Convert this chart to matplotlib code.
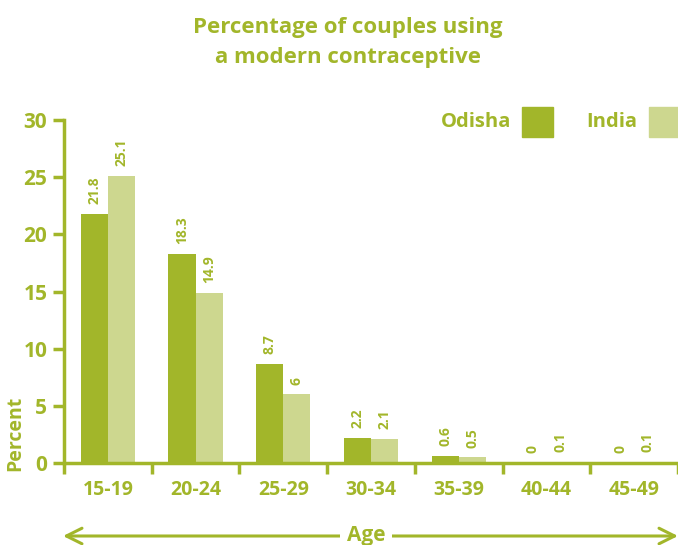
import matplotlib.pyplot as plt
from matplotlib.patches import Rectangle
import numpy as np

plt.rcParams['font.family'] = ['Open Sans', 'DejaVu Sans']
plt.rcParams['font.weight'] = 'bold'

# 데이터
age_groups = ['15-19', '20-24', '25-29', '30-34', '35-39', '40-44', '45-49']
odisha = [21.8, 18.3, 8.7, 2.2, 0.6, 0, 0]
india = [25.1, 14.9, 6, 2.1, 0.5, 0.1, 0.1]
odisha_lbl = ['21.8', '18.3', '8.7', '2.2', '0.6', '0', '0']
india_lbl = ['25.1', '14.9', '6', '2.1', '0.5', '0.1', '0.1']

green = '#a2b62a'
light = '#cdd78f'

W, H = 678, 545
fig = plt.figure(figsize=(W / 100, H / 100), dpi=100)
ax = fig.add_axes([64 / W, 1 - 463 / H, 614 / W, 343 / H])

x = np.arange(len(age_groups))
bw = 0.31
ax.bar(x - bw / 2, odisha, bw, color=green)
ax.bar(x + bw / 2, india, bw, color=light)

for i in range(len(x)):
    ax.annotate(odisha_lbl[i], (x[i] - bw / 2, odisha[i]), xytext=(0, 7),
                textcoords='offset points', rotation=90, ha='center', va='bottom',
                fontsize=10, color=green, fontweight='bold')
    ax.annotate(india_lbl[i], (x[i] + bw / 2, india[i]), xytext=(0, 7),
                textcoords='offset points', rotation=90, ha='center', va='bottom',
                fontsize=10, color=green, fontweight='bold')

ax.set_xlim(-0.5, 6.5)
ax.set_ylim(0, 30)
ax.set_yticks([0, 5, 10, 15, 20, 25, 30])
ax.set_xticks(x)
ax.set_xticklabels(age_groups)
ax.set_xticks(np.arange(-0.5, 6.6, 1), minor=True)
ax.tick_params(axis='x', which='major', length=0, pad=12, labelsize=14, labelcolor=green)
ax.tick_params(axis='x', which='minor', length=8, width=2.5, color=green)
ax.tick_params(axis='y', length=8, width=2.5, color=green, labelsize=15, labelcolor=green, pad=4)
for lbl in ax.get_xticklabels() + ax.get_yticklabels():
    lbl.set_fontweight('bold')

for s in ['top', 'right']:
    ax.spines[s].set_visible(False)
for s in ['left', 'bottom']:
    ax.spines[s].set_color(green)
    ax.spines[s].set_linewidth(2.5)
ax.spines['bottom'].set_capstyle('butt')

fig.text(15 / W, 1 - 471 / H, 'Percent', rotation=90, ha='center', va='bottom',
         fontsize=14, color=green, fontweight='bold')

fig.text(348 / W, 1 - 27 / H, 'Percentage of couples using', ha='center', va='center',
         fontsize=16, color=green, fontweight='bold')
fig.text(348 / W, 1 - 58 / H, 'a modern contraceptive', ha='center', va='center',
         fontsize=16, color=green, fontweight='bold')

# 범례
fig.text(511 / W, 1 - 122 / H, 'Odisha', ha='right', va='center', fontsize=14.5,
         color=green, fontweight='bold')
fig.patches.append(Rectangle((522 / W, 1 - 137 / H), 31 / W, 30 / H,
                             transform=fig.transFigure, color=green))
fig.text(637 / W, 1 - 122 / H, 'India', ha='right', va='center', fontsize=14.5,
         color=green, fontweight='bold')
fig.patches.append(Rectangle((649 / W, 1 - 137 / H), 31 / W, 30 / H,
                             transform=fig.transFigure, color=light))

# Age 화살표
ax.annotate('', xy=(63 / W, 1 - 536 / H), xytext=(678 / W, 1 - 536 / H),
            xycoords='figure fraction', textcoords='figure fraction',
            arrowprops=dict(arrowstyle='<->', color=green, lw=2.2, mutation_scale=28,
                            shrinkA=0, shrinkB=0))
fig.text(366 / W, 1 - 535 / H, 'Age', ha='center', va='center', fontsize=15,
         color=green, fontweight='bold',
         bbox=dict(facecolor='white', edgecolor='none', pad=5))

fig.savefig('out.png', dpi=100)
